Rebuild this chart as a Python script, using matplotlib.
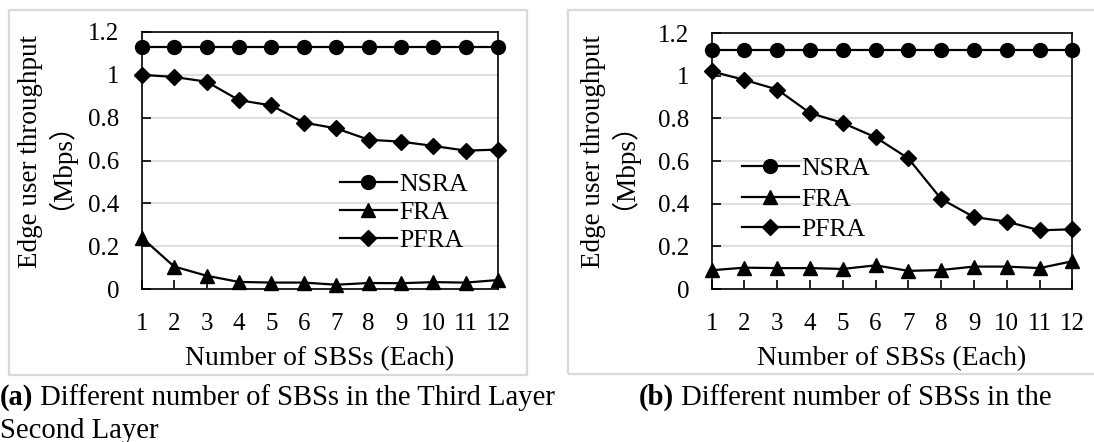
import matplotlib
matplotlib.use("Agg")
import matplotlib.pyplot as plt
from matplotlib.patches import Rectangle
from matplotlib.text import Annotation

# ---- data ----
sbs = list(range(1, 13))
xticklabels = [str(i) for i in sbs]
yticks = [0, 0.2, 0.4, 0.6, 0.8, 1.0, 1.2]
yticklabels = ["0", "0.2", "0.4", "0.6", "0.8", "1", "1.2"]

a_nsra = [1.13] * 12
a_fra = [0.24, 0.105, 0.062, 0.033, 0.03, 0.03, 0.02, 0.028, 0.027, 0.032, 0.03, 0.042]
a_pfra = [1.0, 0.99, 0.968, 0.882, 0.857, 0.777, 0.75, 0.697, 0.688, 0.668, 0.646, 0.651]

b_nsra = [1.12] * 12
b_fra = [0.088, 0.1, 0.098, 0.098, 0.094, 0.111, 0.085, 0.089, 0.105, 0.105, 0.098, 0.13]
b_pfra = [1.02, 0.98, 0.935, 0.825, 0.778, 0.711, 0.612, 0.422, 0.337, 0.316, 0.275, 0.28]

series_names = ["NSRA", "FRA", "PFRA"]
ylabel_text = "Edge user throughput\n\uff08Mbps\uff09"
xlabel_text = "Number of SBSs (Each)"
cap_a_bold, cap_a_rest, cap_a_line2 = "(a)", " Different number of SBSs in the Third Layer", "Second Layer"
cap_b_bold, cap_b_rest = "(b)", " Different number of SBSs in the"

SERIF = ["Liberation Serif", "Noto Sans CJK SC", "DejaVu Sans"]
plt.rcParams["font.family"] = SERIF

W, H = 1094, 442
fig = plt.figure(figsize=(W / 100, H / 100), dpi=100)
fig.patch.set_facecolor("white")


def fx(px):
    return px / W


def fy(py):
    return 1 - py / H


# panel frames
fig.add_artist(Rectangle((fx(9), fy(375)), fx(527) - fx(9), fy(10) - fy(375),
                         transform=fig.transFigure, fill=False, edgecolor="#d9d9d9", lw=1.6))
fig.add_artist(Rectangle((fx(568), fy(374)), fx(1100) - fx(568), fy(10) - fy(374),
                         transform=fig.transFigure, fill=False, edgecolor="#d9d9d9", lw=1.6))


def make_panel(rect, nsra, fra, pfra, ylab_anchor, leg_anchor, leg_spacing):
    ax = fig.add_axes(rect)
    ax.set_xlim(1, 12)
    ax.set_ylim(0, 1.2)
    ax.set_yticks(yticks)
    ax.set_yticklabels(yticklabels)
    ax.set_xticks(sbs)
    ax.set_xticklabels(xticklabels)
    ax.yaxis.grid(True, color="#d9d9d9", lw=1.2)
    ax.set_axisbelow(True)
    for s in ax.spines.values():
        s.set_linewidth(1.2)
        s.set_color("black")
    ax.tick_params(axis="both", direction="in", length=6.5, width=1.2, labelsize=18)
    ax.tick_params(axis="y", pad=16)
    ax.tick_params(axis="x", pad=17)
    kw = dict(color="black", lw=1.6, clip_on=False)
    ax.plot(sbs, nsra, marker="o", ms=10, label=series_names[0], **kw)
    ax.plot(sbs, fra, marker="^", ms=10, label=series_names[1], **kw)
    ax.plot(sbs, pfra, marker="D", ms=8, label=series_names[2], **kw)
    ax.set_xlabel(xlabel_text, fontsize=20)
    ax.xaxis.set_label_coords(0.5, -0.222)
    # two-line y label (second line uses full-width brackets)
    fig.text(fx(ylab_anchor[0]), fy(ylab_anchor[1]), ylabel_text, fontsize=19.5,
             rotation=90, rotation_mode="anchor", ha="center", va="baseline",
             multialignment="center", linespacing=0.45)
    ax.legend(loc="upper left", bbox_to_anchor=leg_anchor, bbox_transform=fig.transFigure,
              frameon=False, fontsize=18.5, handlelength=2.2, handletextpad=0.1,
              labelspacing=leg_spacing, borderpad=0, borderaxespad=0)
    return ax


axa = make_panel([fx(141.7), fy(289), fx(498.3) - fx(141.7), fy(32) - fy(289)],
                 a_nsra, a_fra, a_pfra, (66.5, 152), (fx(340), fy(173)), 0.2)
axb = make_panel([fx(711.7), fy(289), fx(1072.3) - fx(711.7), fy(33) - fy(289)],
                 b_nsra, b_fra, b_pfra, (629.5, 152), (fx(742), fy(157)), 0.3)


def caption(x, y, bold, rest):
    t1 = fig.text(x, y, bold, fontsize=20.6, fontweight="bold", ha="left", va="baseline")
    t2 = Annotation(rest, xy=(1, 0), xycoords=t1, fontsize=20.6, ha="left", va="bottom")
    fig.add_artist(t2)
    return t1, t2


caption(fx(0), fy(405), cap_a_bold, cap_a_rest)
fig.text(fx(0), fy(438), cap_a_line2, fontsize=20.6, ha="left", va="baseline")
caption(fx(639), fy(405), cap_b_bold, cap_b_rest)

fig.savefig("out.png", dpi=100)
